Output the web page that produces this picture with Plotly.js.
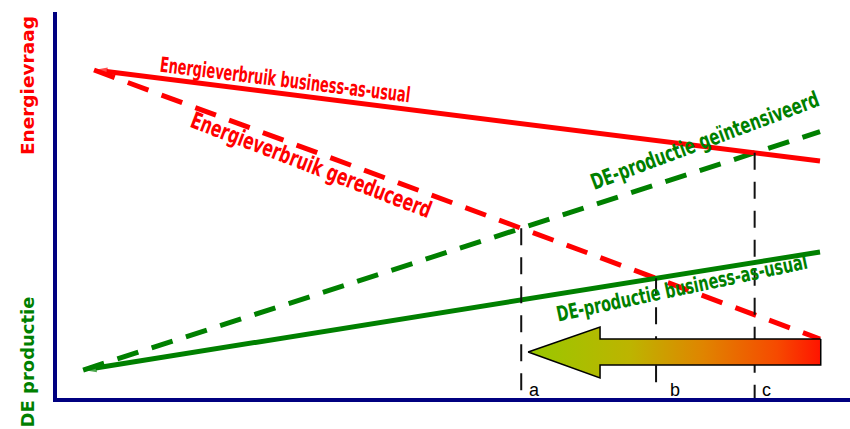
<!DOCTYPE html>
<html>
<head>
<meta charset="utf-8">
<script src="https://cdn.plot.ly/plotly-3.0.1.min.js"></script>
<style>html,body{margin:0;padding:0;background:#fff;}#chart{width:850px;height:429px;}</style>
</head>
<body>
<div id="chart"></div>
<script>
// ---- data (time in arbitrary units, value in arbitrary units) ----
const energyYears = [0, 10];
const energyBAU = [84.97, 61.4];          // Energieverbruik business-as-usual
const energyReduced = [84.97, 15.28];     // Energieverbruik gereduceerd
const deYears = [-0.15, 10];
const deBAU = [7.25, 37.82];              // DE-productie business-as-usual
const deIntensified = [7.25, 69.0];       // DE-productie geïntensiveerd

const arrowX = [10.01, 6.97, 6.97, 5.98, 6.97, 6.97, 10.01, 10.01];
const arrowY = [15.28, 15.28, 18.39, 11.92, 5.18, 8.55, 8.55, 15.28];

const markLabels = ['a', 'b', 'c'];
const lineLabels = [
  'Energieverbruik business-as-usual',
  'Energieverbruik gereduceerd',
  'DE-productie geïntensiveerd',
  'DE-productie business-as-usual'
];
const axisLabels = ['Energievraag', 'DE productie'];

// ---- helpers ----
function intersect(x1, y1, x2, y2) {
  const s1 = (y1[1] - y1[0]) / (x1[1] - x1[0]);
  const s2 = (y2[1] - y2[0]) / (x2[1] - x2[0]);
  const b1 = y1[0] - s1 * x1[0];
  const b2 = y2[0] - s2 * x2[0];
  const x = (b2 - b1) / (s1 - s2);
  return [x, s1 * x + b1];
}
const pA = intersect(energyYears, energyReduced, deYears, deIntensified);
const pB = intersect(energyYears, energyReduced, deYears, deBAU);
const pC = intersect(energyYears, energyBAU, deYears, deIntensified);
const drops = [[pA, 1.5], [pB, 2.07], [pC, 0]];

const RED = '#ff0000', GREEN = '#008000';
const rev = a => a.slice().reverse();

const traces = [
  {x: energyYears, y: energyReduced, mode: 'lines', line: {color: RED, width: 5, dash: '22px,14px'}},
  {x: deYears, y: deIntensified, mode: 'lines', line: {color: GREEN, width: 5, dash: '22px,14px'}},
  {x: rev(energyYears), y: rev(energyBAU), mode: 'lines+markers', line: {color: RED, width: 5},
   marker: {symbol: 'arrow', angleref: 'previous', size: [0, 14], color: RED, line: {width: 0}}},
  {x: rev(deYears), y: rev(deBAU), mode: 'lines+markers', line: {color: GREEN, width: 5},
   marker: {symbol: 'arrow', angleref: 'previous', size: [0, 14], color: GREEN, line: {width: 0}}}
];
drops.forEach(d => {
  traces.push({x: [d[0][0], d[0][0]], y: [d[0][1], d[1]], mode: 'lines',
    line: {color: '#111', width: 2, dash: '17px,12px'}});
});
traces.push({x: arrowX, y: arrowY, mode: 'lines', fill: 'toself',
  line: {color: '#000', width: 1.5},
  fillgradient: {type: 'horizontal',
    colorscale: [[0, '#98c800'], [0.35, '#bdb400'], [0.6, '#e08400'], [0.85, '#f64a00'], [1, '#ff1400']]}});

const narrow = '"Liberation Sans Narrow", "Arial Narrow", "DejaVu Sans Condensed", "DejaVu Sans", sans-serif';
const annotations = [
  {x: 2.63, y: 82.4, text: lineLabels[0], textangle: 7, font: {family: narrow, size: 21, color: RED, weight: 700}},
  {x: 3.0, y: 60.4, text: lineLabels[1], textangle: 21, font: {family: narrow, size: 23, color: RED, weight: 700}},
  {x: 8.42, y: 66.6, text: lineLabels[2], textangle: -20.5, font: {family: narrow, size: 22, color: GREEN, weight: 700}},
  {x: 8.10, y: 28.5, text: lineLabels[3], textangle: -12, font: {family: narrow, size: 21, color: GREEN, weight: 700}}
].map(a => Object.assign(a, {xref: 'x', yref: 'y', showarrow: false, xanchor: 'center', yanchor: 'middle'}));
// visual length (px) of each condensed line label
const labelLength = {};
labelLength[lineLabels[0]] = 252;
labelLength[lineLabels[1]] = 256;
labelLength[lineLabels[2]] = 242;
labelLength[lineLabels[3]] = 256;

const labelShift = [6, 12, 5];
drops.forEach((d, i) => {
  annotations.push({x: d[0][0], y: 2.07, xref: 'x', yref: 'y', text: markLabels[i], showarrow: false,
    xanchor: 'left', yanchor: 'middle', xshift: labelShift[i],
    font: {family: '"Liberation Sans", Arial, sans-serif', size: 18, color: '#000'}});
});
annotations.push({x: 0, y: 0.808, xref: 'paper', yref: 'paper', xshift: -30, text: axisLabels[0], textangle: -90,
  showarrow: false, xanchor: 'center', yanchor: 'middle',
  font: {family: '"DejaVu Sans", Verdana, sans-serif', size: 18.5, color: RED, weight: 700}});
annotations.push({x: 0, y: 0.092, xref: 'paper', yref: 'paper', xshift: -30, text: axisLabels[1], textangle: -90,
  showarrow: false, xanchor: 'center', yanchor: 'middle',
  font: {family: '"DejaVu Sans", Verdana, sans-serif', size: 18, color: GREEN, weight: 700}});

const axisCommon = {showgrid: false, zeroline: false, showticklabels: false, ticks: '',
  showline: true, linecolor: '#000080', linewidth: 4, fixedrange: true};

const layout = {
  width: 850, height: 429,
  margin: {l: 57, r: 0, t: 12, b: 31},
  paper_bgcolor: '#fff', plot_bgcolor: '#fff',
  showlegend: false,
  xaxis: Object.assign({range: [-0.51, 10.413]}, axisCommon),
  yaxis: Object.assign({range: [0, 100]}, axisCommon),
  annotations: annotations
};

Plotly.newPlot('chart', traces, layout, {displayModeBar: false, staticPlot: true}).then(() => {
  document.querySelectorAll('text.annotation-text').forEach(t => {
    const len = labelLength[t.textContent];
    if (len) {
      t.setAttribute('textLength', len);
      t.setAttribute('lengthAdjust', 'spacingAndGlyphs');
    }
  });
});
</script>
</body>
</html>
